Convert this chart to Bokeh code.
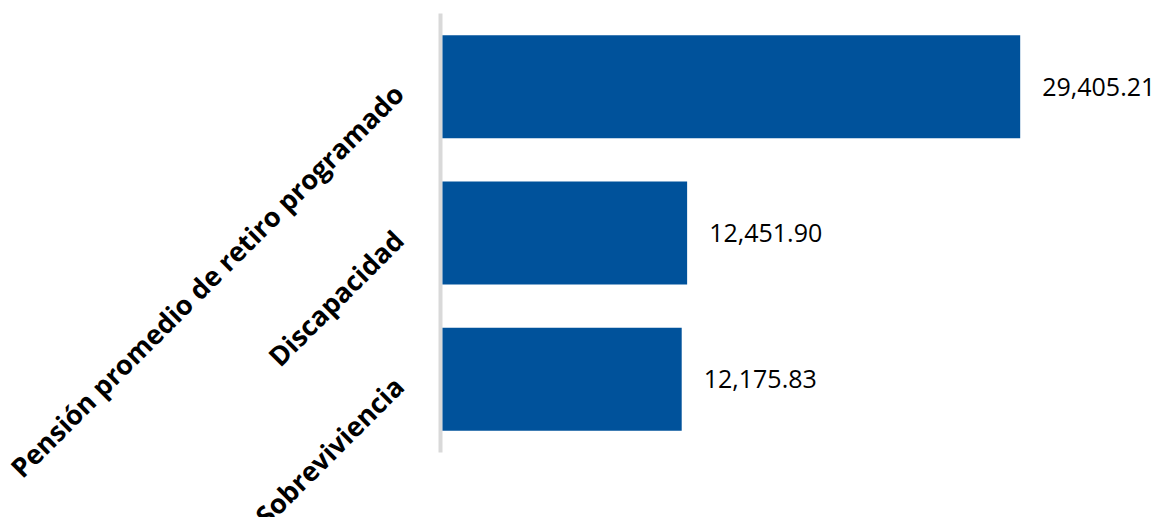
import math
from bokeh.plotting import figure
from bokeh.models import Range1d, ColumnDataSource
from bokeh.embed import file_html
from bokeh.resources import INLINE
from bokeh.core.properties import value

categories = ["Pensión promedio de retiro programado", "Discapacidad", "Sobreviviencia"]
values = [29405.21, 12451.90, 12175.83]
value_labels = [f"{v:,.2f}" for v in values]

# category slots, top to bottom
n = len(categories)
ypos = [n - i - 0.5 for i in range(n)]

W, H = 1159, 517
x_start, x_end = -22498, 36496
px = (x_end - x_start) / W  # data units per pixel

p = figure(width=W, height=H,
           x_range=Range1d(x_start, x_end),
           y_range=Range1d(-0.4442, n + 0.0888),
           output_backend="svg", toolbar_location=None,
           x_axis_location=None, y_axis_location=None,
           min_border_left=0, min_border_right=0,
           min_border_top=0, min_border_bottom=0)
p.outline_line_color = None
p.grid.visible = False

src = ColumnDataSource(dict(cat=categories, y=ypos, val=values, lab=value_labels,
                            zero=[0] * n))

# category axis line
p.segment(x0=[-2 * px], x1=[-2 * px], y0=[0], y1=[n],
          line_color="#d9d9d9", line_width=4)

p.hbar(y="y", left="zero", right="val", height=0.704, source=src,
       fill_color="#00529B", line_color=None)

p.text(x="val", y="y", text="lab", source=src, x_offset=22,
       text_align="left", text_baseline="middle",
       text_font=value("Open Sans"), text_font_size="25px", text_color="#000000")

p.text(x="zero", y="y", text="cat", source=src, x_offset=-44, y_offset=2,
       angle=math.pi / 4, text_align="right", text_baseline="middle",
       text_font=value("Open Sans"), text_font_style="bold",
       text_font_size="27px", text_color="#000000")

open("out.html", "w").write(file_html(p, INLINE))
